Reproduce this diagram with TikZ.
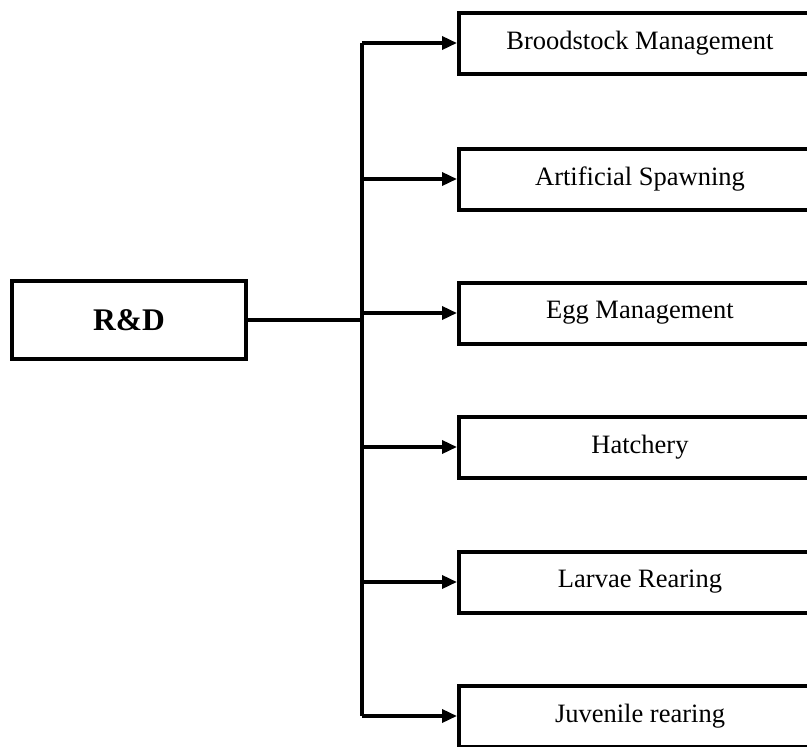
\documentclass[tikz,border=0pt]{standalone}
\usepackage{fontspec}
\setmainfont{Liberation Serif}
\usetikzlibrary{arrows.meta}
\begin{document}
\begin{tikzpicture}[x=1pt,y=-1pt,
  box/.style={draw, line width=4pt, rectangle, minimum width=362pt, minimum height=61pt, inner sep=0pt, font=\fontsize{26.5}{31}\selectfont},
  rdbox/.style={draw, line width=4.5pt, rectangle, minimum width=234pt, minimum height=78pt, inner sep=0pt, font=\fontsize{31.5}{36}\selectfont\bfseries},
  conn/.style={line width=3.5pt},
  arr/.style={conn, -{Triangle[length=15pt,width=13pt]}}]
\clip (0,0) rectangle (807,747);
\node[rdbox] (rd) at (129,320) {R\&D};
\node[box] (b1) at (640,43) {Broodstock Management};
\node[box] (b2) at (640,179) {Artificial Spawning};
\node[box] (b3) at (640,313) {Egg Management};
\node[box] (b4) at (640,447) {Hatchery};
\node[box] (b5) at (640,582) {Larvae Rearing};
\node[box] (b6) at (640,716) {Juvenile rearing};
\coordinate (tr) at (362,0);
\draw[conn] (rd.east) -- (rd.east -| tr);
\draw[conn] (b1.west -| tr) -- (b6.west -| tr);
\foreach \i in {1,...,6}{
  \draw[arr] (b\i.west -| tr) -- (b\i.west);
}
\end{tikzpicture}
\end{document}
